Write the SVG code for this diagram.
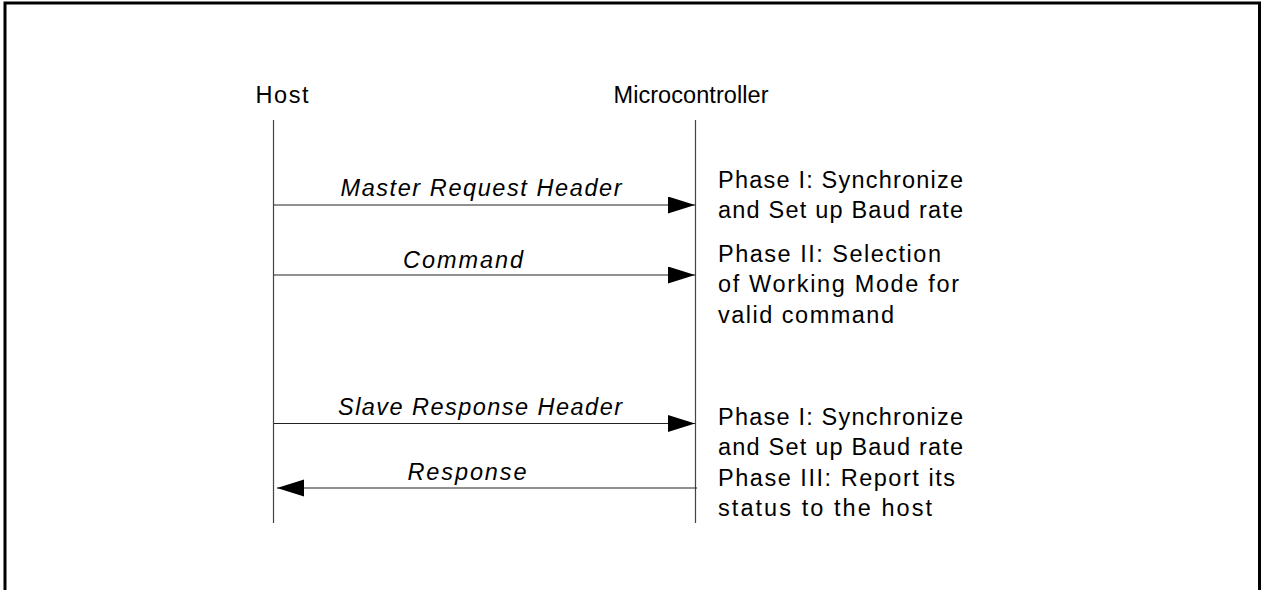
<svg xmlns="http://www.w3.org/2000/svg" width="1261" height="590" viewBox="0 0 1261 590">
<style>
.t{font-family:"Liberation Sans",Arial,sans-serif;font-size:23.5px;fill:#000}
.i{font-style:italic}
.life{stroke:#444;stroke-width:1.2;fill:none}
.msg{stroke:#222;stroke-width:1.2;fill:none}
</style>
<defs>
<marker id="ah" markerUnits="userSpaceOnUse" markerWidth="28" markerHeight="18" refX="27" refY="8.5" orient="auto">
<path d="M0,0 L27,8.5 L0,17 Z" fill="#000"/>
</marker>
</defs>
<rect x="5" y="3" width="1254.5" height="700" fill="#fff" stroke="#000" stroke-width="3"/>
<g id="host">
<text class="t" x="282" y="102.5" text-anchor="middle" textLength="53" lengthAdjust="spacing">Host</text>
<line class="life" x1="273.5" y1="120" x2="273.5" y2="523"/>
</g>
<g id="microcontroller">
<text class="t" x="691" y="102.5" text-anchor="middle" textLength="155" lengthAdjust="spacing">Microcontroller</text>
<line class="life" x1="695.5" y1="120" x2="695.5" y2="523"/>
</g>
<g id="connectors">
<line class="msg" x1="274" y1="205" x2="695" y2="205" marker-end="url(#ah)"/>
<line class="msg" x1="274" y1="275" x2="695" y2="275" marker-end="url(#ah)"/>
<line class="msg" x1="274" y1="423.5" x2="695" y2="423.5" marker-end="url(#ah)"/>
<line class="msg" x1="697" y1="488" x2="277" y2="488" marker-end="url(#ah)"/>
<text class="t i" x="481" y="196" text-anchor="middle" textLength="281" lengthAdjust="spacing">Master Request Header</text>
<text class="t i" x="463" y="268" text-anchor="middle" textLength="120" lengthAdjust="spacing">Command</text>
<text class="t i" x="480" y="415" text-anchor="middle" textLength="284" lengthAdjust="spacing">Slave Response Header</text>
<text class="t i" x="467" y="480" text-anchor="middle" textLength="119" lengthAdjust="spacing">Response</text>
</g>
<g id="phase1a">
<text class="t" x="718" y="188" textLength="245" lengthAdjust="spacing">Phase I: Synchronize</text>
<text class="t" x="718" y="218" textLength="245" lengthAdjust="spacing">and Set up Baud rate</text>
</g>
<g id="phase2">
<text class="t" x="718" y="262" textLength="223" lengthAdjust="spacing">Phase II: Selection</text>
<text class="t" x="718" y="292" textLength="241" lengthAdjust="spacing">of Working Mode for</text>
<text class="t" x="718" y="323" textLength="176" lengthAdjust="spacing">valid command</text>
</g>
<g id="phase1b">
<text class="t" x="718" y="425" textLength="245" lengthAdjust="spacing">Phase I: Synchronize</text>
<text class="t" x="718" y="455" textLength="245" lengthAdjust="spacing">and Set up Baud rate</text>
</g>
<g id="phase3">
<text class="t" x="718" y="486" textLength="237" lengthAdjust="spacing">Phase III: Report its</text>
<text class="t" x="718" y="516" textLength="214" lengthAdjust="spacing">status to the host</text>
</g>
</svg>
